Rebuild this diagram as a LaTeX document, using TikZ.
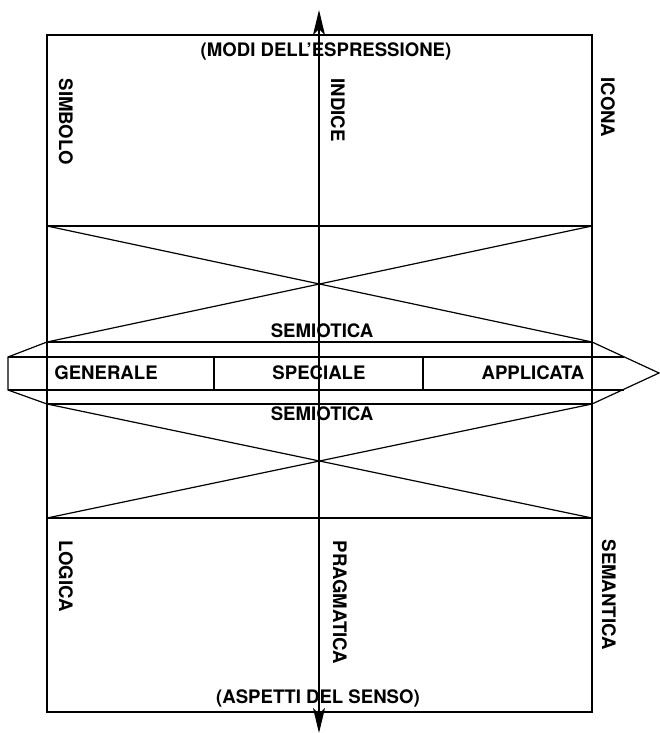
\documentclass[tikz,border=0pt]{standalone}
\usepackage{fontspec}
\setmainfont{TeX Gyre Heros}
\usetikzlibrary{arrows.meta}
\begin{document}
\begin{tikzpicture}[x=1pt,y=-1pt,line width=1.2pt,
  lbl/.style={font=\bfseries\fontsize{18.6}{20}\selectfont, inner sep=0pt, anchor=base},
  vlbl/.style={font=\bfseries\fontsize{18.6}{20}\selectfont, inner sep=0pt, rotate=-90, anchor=west}]
\useasboundingbox (0,0) rectangle (659,733);
% frame
\coordinate (tl) at (47,35);
\coordinate (br) at (592,712);
\draw[] (tl) rectangle (br);
\coordinate (a1) at (47,226);
\coordinate (a2) at (592,226);
\coordinate (b1) at (47,342);
\coordinate (b2) at (592,342);
\coordinate (c1) at (47,404);
\coordinate (c2) at (592,404);
\coordinate (d1) at (47,518);
\coordinate (d2) at (592,518);
\draw[] (a1) -- (a2);
\draw[] (b1) -- (b2);
\draw[] (c1) -- (c2);
\draw[] (d1) -- (d2);
% crosses
\draw[] (a1) -- (b2);
\draw[] (a2) -- (b1);
\draw[] (c1) -- (d2);
\draw[] (c2) -- (d1);
% band
\coordinate (e1) at (8,357);
\coordinate (e2) at (624,357);
\coordinate (f1) at (8,390);
\coordinate (f2) at (624,390);
\coordinate (tip) at (659,373);
\draw[] (b1) -- (e1) -- (f1) -- (c1);
\draw[] (b2) -- (tip) -- (c2);
\draw[] (e1) -- (e2);
\draw[] (f1) -- (f2);
\draw[] (214,357) -- (214,390);
\draw[] (423,357) -- (423,390);
% axis
\coordinate (top) at (319,10);
\coordinate (bot) at (319,733);
\draw[{Stealth[length=25pt,width=12pt,inset=6pt]}-{Stealth[length=25pt,width=12pt,inset=6pt]}] (top) -- (bot);
% labels
\node[lbl] (modi) at (326,57) {(MODI DELL’ESPRESSIONE)};
\node[lbl] (aspetti) at (318,703) {(ASPETTI DEL SENSO)};
\node[lbl] (sem1) at (322,337) {SEMIOTICA};
\node[lbl] (sem2) at (322,420) {SEMIOTICA};
\node[lbl] (gen) at (106,379) {GENERALE};
\node[lbl] (spe) at (319,379) {SPECIALE};
\node[lbl] (app) at (533,379) {APPLICATA};
\node[vlbl] (simb) at (66,78) {SIMBOLO};
\node[vlbl] (indi) at (338,78) {INDICE};
\node[vlbl] (icon) at (608,77) {ICONA};
\node[vlbl] (logi) at (66,540) {LOGICA};
\node[vlbl] (prag) at (340,540) {PRAGMATICA};
\node[vlbl] (sema) at (609,539) {SEMANTICA};
\end{tikzpicture}
\end{document}
